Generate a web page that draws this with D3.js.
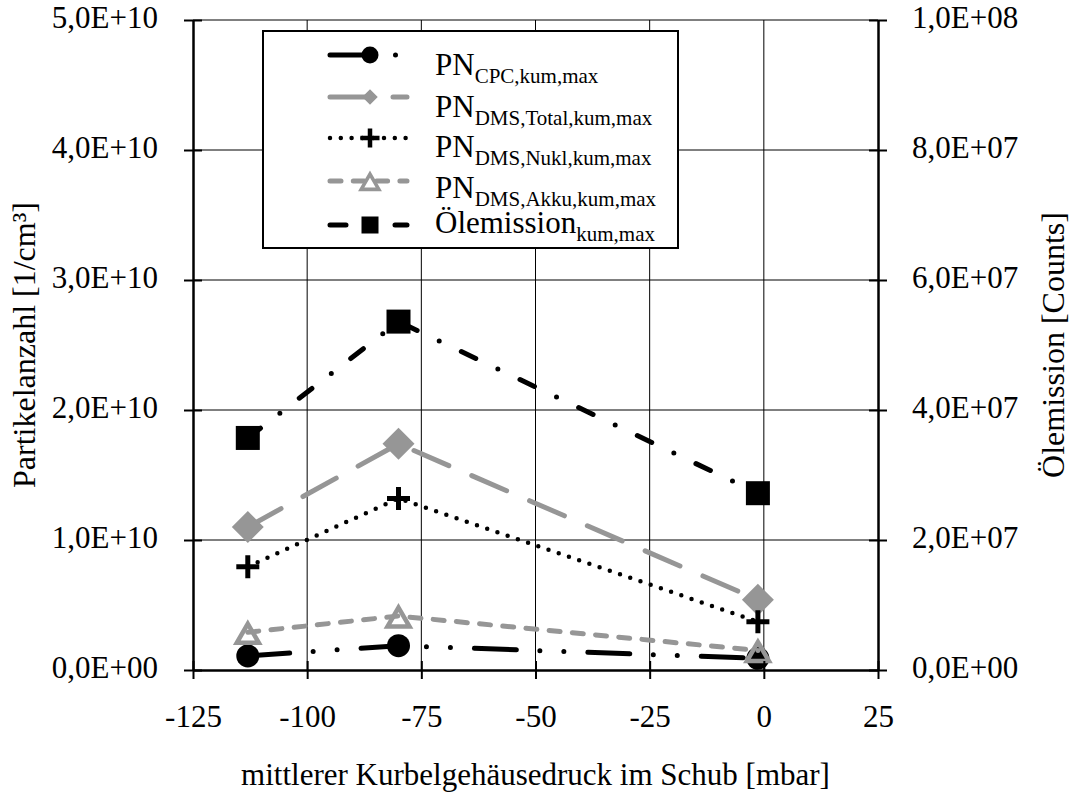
<!DOCTYPE html>
<html><head><meta charset="utf-8">
<script src="https://cdn.jsdelivr.net/npm/d3@7"></script>
<style>
body{margin:0;background:#fff}
svg{display:block}
text{font-family:"Liberation Serif","Times New Roman",serif;fill:#000}
</style>
</head><body>
<svg id="c" width="1072" height="793"></svg>
<script>
// ---- data ----
const xValues = [-113, -80, -1.3];
const pnCPC = [1.08e9, 1.87e9, 0.9e9];
const pnDMSTotal = [1.10e10, 1.74e10, 0.54e10];
const pnDMSNukl = [0.795e10, 1.32e10, 0.372e10];
const pnDMSAkku = [2.9e9, 4.15e9, 1.5e9];
const oelEmission = [3.57e7, 5.36e7, 2.72e7];

const xTicks = [-125, -100, -75, -50, -25, 0, 25];
const yLeftTicks = [0, 1e10, 2e10, 3e10, 4e10, 5e10];
const yRightTicks = [0, 2e7, 4e7, 6e7, 8e7, 1e8];

const legendMain = ["PN", "PN", "PN", "PN", "Ölemission"];
const legendSub = ["CPC,kum,max", "DMS,Total,kum,max", "DMS,Nukl,kum,max", "DMS,Akku,kum,max", "kum,max"];

const xTitle = "mittlerer Kurbelgehäusedruck im Schub [mbar]";
const yLeftTitle = "Partikelanzahl [1/cm³]";
const yRightTitle = "Ölemission [Counts]";

// ---- layout ----
const svg = d3.select("#c");
const L = 193, R = 878, T = 20, B = 670;
const GRAY = "#969696";
const x = d3.scaleLinear().domain([-125, 25]).range([L, R]);
const yL = d3.scaleLinear().domain([0, 5e10]).range([B, T]);
const yR = d3.scaleLinear().domain([0, 1e8]).range([B, T]);

function sci(v) {
  if (v === 0) return "0,0E+00";
  const e = Math.floor(Math.log10(v) + 1e-9);
  const m = v / Math.pow(10, e);
  return m.toFixed(1).replace(".", ",") + "E+" + String(e).padStart(2, "0");
}

// grid
const grid = svg.append("g").attr("stroke", "#000").attr("stroke-width", 1);
grid.selectAll(".gv").data(xTicks.slice(1, -1)).enter().append("line")
  .attr("x1", d => x(d)).attr("x2", d => x(d)).attr("y1", T).attr("y2", B);
grid.selectAll(".gh").data(yLeftTicks.slice(1)).enter().append("line")
  .attr("x1", L).attr("x2", R).attr("y1", d => yL(d)).attr("y2", d => yL(d));

// series
const series = [
  {vals: pnCPC, y: yL, color: "#000", dash: "42 23.5 0 24 0 24", width: 5, marker: "circle"},
  {vals: pnDMSTotal, y: yL, color: GRAY, dash: "38 25", width: 5, marker: "diamond"},
  {vals: pnDMSNukl, y: yL, color: "#000", dash: "0 10.8", width: 4.5, marker: "plus"},
  {vals: pnDMSAkku, y: yL, color: GRAY, dash: "11 12.3", width: 5, marker: "triangle"},
  {vals: oelEmission, y: yR, color: "#000", dash: "16 24.5 0 24.5", width: 5, marker: "square"}
];

function marker(g, type, cx, cy, color, legend) {
  const k = legend ? 1 : 0;
  if (type === "circle") {
    g.append("circle").attr("cx", cx).attr("cy", cy).attr("r", legend ? 8.5 : 11.5).attr("fill", color);
  } else if (type === "diamond") {
    const s = legend ? 11 : 22.6;
    g.append("rect").attr("x", -s / 2).attr("y", -s / 2).attr("width", s).attr("height", s)
      .attr("fill", color).attr("transform", `translate(${cx},${cy}) rotate(45)`);
  } else if (type === "plus") {
    const a = legend ? 9.5 : 11.5, w = legend ? 4.5 : 5;
    g.append("path").attr("d", `M${cx - a},${cy}H${cx + a}M${cx},${cy - a}V${cy + a}`)
      .attr("stroke", color).attr("stroke-width", w).attr("fill", "none");
  } else if (type === "triangle") {
    const s = legend ? 0.8 : 1;
    g.append("path").attr("d", `M0,-8.5L11,10.5L-11,10.5Z`)
      .attr("transform", `translate(${cx},${cy}) scale(${s})`)
      .attr("stroke", color).attr("stroke-width", 4.5).attr("fill", "none");
  } else if (type === "square") {
    const s = legend ? 17 : 24;
    g.append("rect").attr("x", cx - s / 2).attr("y", cy - s / 2).attr("width", s).attr("height", s).attr("fill", color);
  }
}

const plot = svg.append("g");
series.forEach(s => {
  const g = plot.append("g");
  const line = d3.line().x((d, i) => x(xValues[i])).y(d => s.y(d));
  g.append("path").datum(s.vals).attr("d", line).attr("fill", "none")
    .attr("stroke", s.color).attr("stroke-width", s.width)
    .attr("stroke-dasharray", s.dash).attr("stroke-linecap", "round");
  s.vals.forEach((v, i) => marker(g, s.marker, x(xValues[i]), s.y(v), s.color, false));
});

// axes
const FS = 31;
const ax = svg.append("g");
// x axis
const xa = ax.append("g").attr("transform", `translate(0,${B})`)
  .call(d3.axisBottom(x).tickValues(xTicks).tickSizeInner(9).tickSizeOuter(0).tickFormat(d => d));
xa.select(".domain").attr("stroke-width", 2.5);
xa.selectAll(".tick line").attr("y1", -9).attr("y2", 9).attr("stroke-width", 2);
xa.selectAll(".tick text").attr("y", 57).attr("dy", null).attr("font-size", FS)
  .attr("font-family", "Liberation Serif");
// left axis
const yla = ax.append("g").attr("transform", `translate(${L},0)`)
  .call(d3.axisLeft(yL).tickValues(yLeftTicks).tickSizeInner(9).tickSizeOuter(0).tickFormat(sci));
yla.select(".domain").attr("stroke-width", 2.5);
yla.selectAll(".tick line").attr("x1", -9).attr("x2", 9).attr("stroke-width", 2);
yla.selectAll(".tick text").attr("x", -35).attr("dy", 7).attr("font-size", FS)
  .attr("font-family", "Liberation Serif");
// right axis
const yra = ax.append("g").attr("transform", `translate(${R},0)`)
  .call(d3.axisRight(yR).tickValues(yRightTicks).tickSizeInner(9).tickSizeOuter(0).tickFormat(sci));
yra.select(".domain").attr("stroke-width", 2.5);
yra.selectAll(".tick line").attr("x1", -9).attr("x2", 9).attr("stroke-width", 2);
yra.selectAll(".tick text").attr("x", 34).attr("dy", 7).attr("font-size", FS)
  .attr("font-family", "Liberation Serif");
ax.selectAll(".domain, .tick line").attr("stroke", "#000");
ax.selectAll(".tick text").attr("fill", "#000");

// titles
svg.append("text").attr("x", (L + R) / 2).attr("y", 785).attr("text-anchor", "middle")
  .attr("font-size", FS).text(xTitle);
svg.append("text").attr("transform", `translate(35,${(T + B) / 2}) rotate(-90)`)
  .attr("text-anchor", "middle").attr("font-size", 32).text(yLeftTitle);
svg.append("text").attr("transform", `translate(1064,${(T + B) / 2}) rotate(-90)`)
  .attr("text-anchor", "middle").attr("font-size", 32).text(yRightTitle);

// legend
const lg = svg.append("g");
lg.append("rect").attr("x", 263).attr("y", 31).attr("width", 415).attr("height", 217)
  .attr("fill", "#fff").attr("stroke", "#000").attr("stroke-width", 2);
const rowMarkerY = [55, 97, 138, 181, 225];
const rowTextY = [75, 116.7, 156.7, 198, 233];
series.forEach((s, i) => {
  const g = lg.append("g");
  const cy = rowMarkerY[i];
  g.append("line").attr("x1", 330).attr("x2", 407).attr("y1", cy).attr("y2", cy)
    .attr("stroke", s.color).attr("stroke-width", s.width)
    .attr("stroke-dasharray", s.dash).attr("stroke-linecap", "round");
  marker(g, s.marker, 370, cy, s.color, true);
  const t = g.append("text").attr("x", 435).attr("y", rowTextY[i]).attr("font-size", 31);
  t.append("tspan").text(legendMain[i]);
  t.append("tspan").attr("font-size", 21).attr("dy", 8).text(legendSub[i]);
});
</script>
</body></html>
